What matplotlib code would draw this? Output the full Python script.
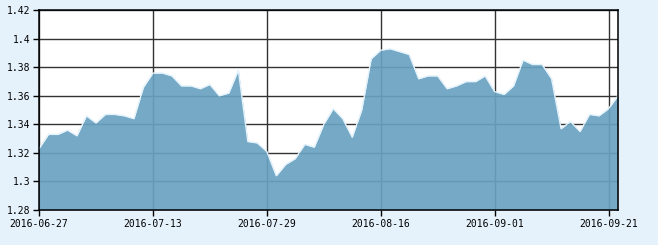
import numpy as np
import matplotlib.pyplot as plt

# trading days (China A-share calendar) and values
dates = ['2016-06-27', '2016-06-28', '2016-06-29', '2016-06-30', '2016-07-01',
         '2016-07-04', '2016-07-05', '2016-07-06', '2016-07-07', '2016-07-08',
         '2016-07-11', '2016-07-12', '2016-07-13', '2016-07-14', '2016-07-15',
         '2016-07-18', '2016-07-19', '2016-07-20', '2016-07-21', '2016-07-22',
         '2016-07-25', '2016-07-26', '2016-07-27', '2016-07-28', '2016-07-29',
         '2016-08-01', '2016-08-02', '2016-08-03', '2016-08-04', '2016-08-05',
         '2016-08-08', '2016-08-09', '2016-08-10', '2016-08-11', '2016-08-12',
         '2016-08-15', '2016-08-16', '2016-08-17', '2016-08-18', '2016-08-19',
         '2016-08-22', '2016-08-23', '2016-08-24', '2016-08-25', '2016-08-26',
         '2016-08-29', '2016-08-30', '2016-08-31', '2016-09-01', '2016-09-02',
         '2016-09-05', '2016-09-06', '2016-09-07', '2016-09-08', '2016-09-09',
         '2016-09-12', '2016-09-13', '2016-09-14', '2016-09-19', '2016-09-20',
         '2016-09-21', '2016-09-22']
values = [1.323, 1.333, 1.333, 1.336, 1.332, 1.346, 1.341, 1.347, 1.347, 1.346,
          1.344, 1.366, 1.376, 1.376, 1.374, 1.367, 1.367, 1.365, 1.368, 1.360,
          1.362, 1.378, 1.328, 1.327, 1.321, 1.304, 1.312, 1.316, 1.326, 1.324,
          1.340, 1.351, 1.344, 1.331, 1.350, 1.386, 1.392, 1.393, 1.391, 1.389,
          1.372, 1.374, 1.374, 1.365, 1.367, 1.370, 1.370, 1.374, 1.363, 1.361,
          1.367, 1.385, 1.382, 1.382, 1.372, 1.337, 1.342, 1.335, 1.347, 1.346,
          1.351, 1.360]
xtick_labels = ['2016-06-27', '2016-07-13', '2016-07-29', '2016-08-16',
                '2016-09-01', '2016-09-21']
yticks = [1.28, 1.3, 1.32, 1.34, 1.36, 1.38, 1.4, 1.42]
ytick_labels = ['1.28', '1.3', '1.32', '1.34', '1.36', '1.38', '1.4', '1.42']

x = np.arange(len(values))
xtick_pos = [dates.index(d) for d in xtick_labels]

fig = plt.figure(figsize=(6.58, 2.45), dpi=100, facecolor='#e6f2fb')
ax = fig.add_axes([0.0593, 0.1429, 0.8799, 0.8151])
ax.set_facecolor('white')

# grid first, fill on top (slightly see-through)
for yv in yticks:
    ax.axhline(yv, color='#333333', lw=1.0, zorder=1)
for xv in xtick_pos:
    ax.axvline(xv, color='#333333', lw=1.0, zorder=1)

ax.fill_between(x, values, 1.28, color='#69a2c1', alpha=0.92, lw=0, zorder=2)
ax.plot(x, values, color='#e4f2fb', lw=1.0, zorder=3)

ax.set_xlim(0, len(values) - 1)
ax.set_ylim(1.28, 1.42)
ax.set_xticks(xtick_pos)
ax.set_xticklabels(xtick_labels)
ax.set_yticks(yticks)
ax.set_yticklabels(ytick_labels)
ax.tick_params(direction='out', length=4, width=1, pad=2.5, color='black',
               labelsize=7, labelcolor='black')
for lbl in ax.get_xticklabels() + ax.get_yticklabels():
    lbl.set_fontfamily('DejaVu Sans Mono')
for s in ax.spines.values():
    s.set_color('black')
    s.set_linewidth(1.1)
    s.set_zorder(4)

plt.savefig('out.png', dpi=100, facecolor=fig.get_facecolor())
plt.close()
